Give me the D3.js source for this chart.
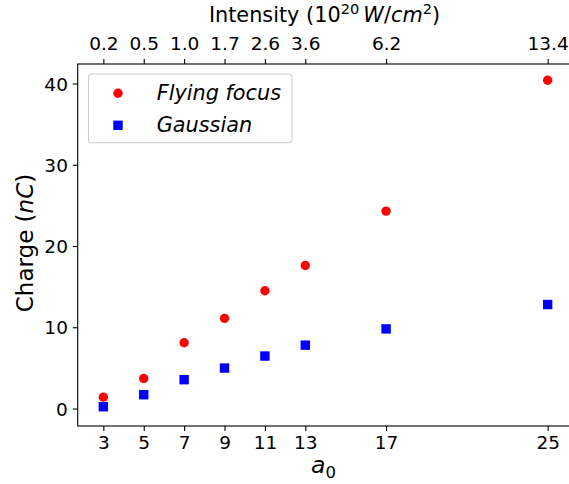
<!DOCTYPE html>
<html>
<head>
<meta charset="utf-8">
<script src="https://cdn.jsdelivr.net/npm/d3@7"></script>
<style>
  html, body { margin: 0; padding: 0; background: #fff; }
  svg { display: block; font-family: "DejaVu Sans", sans-serif; }
</style>
</head>
<body>
<svg id="chart" width="569" height="484"></svg>
<script>
// ---- data ----
const a0Values = [3, 5, 7, 9, 11, 13, 17, 25];
const intensityLabels = ["0.2", "0.5", "1.0", "1.7", "2.6", "3.6", "6.2", "13.4"];
const flyingFocus = [1.4, 3.7, 8.1, 11.1, 14.5, 17.6, 24.3, 40.4];
const gaussian = [0.22, 1.7, 3.55, 4.98, 6.46, 7.8, 9.8, 12.8];
const yTicks = [0, 10, 20, 30, 40];
const seriesNames = ["Flying focus", "Gaussian"];
const seriesColors = ["#ff0000", "#0000ff"];

// ---- layout ----
const W = 569, H = 484;
const plotLeft = 77.7, plotRight = 573.3, plotTop = 64, plotBottom = 426;
const tickLen = 4.9, tickPad = 4.9;

const svg = d3.select("#chart");

const x = d3.scaleLinear().domain([1.73, 26.27]).range([plotLeft, plotRight]);
const y = d3.scaleLinear().domain([-2.15, 42.4]).range([plotBottom, plotTop]);

// frame
svg.append("rect")
  .attr("x", plotLeft).attr("y", plotTop)
  .attr("width", plotRight - plotLeft).attr("height", plotBottom - plotTop)
  .attr("fill", "none").attr("stroke", "#000").attr("stroke-width", 1.1);

function styleAxis(g) {
  g.select(".domain").remove();
  g.selectAll(".tick line").attr("stroke", "#000").attr("stroke-width", 1.1);
  g.selectAll(".tick text").attr("fill", "#000")
    .style("font-family", "DejaVu Sans").style("font-size", "18.5px");
}

// bottom axis
const gx = svg.append("g").attr("transform", `translate(0,${plotBottom})`)
  .call(d3.axisBottom(x).tickValues(a0Values).tickSize(tickLen).tickPadding(tickPad).tickSizeOuter(0));
styleAxis(gx);
gx.selectAll(".tick text").attr("dy", null).attr("y", 22.6);

// top axis
const gt = svg.append("g").attr("transform", `translate(0,${plotTop})`)
  .call(d3.axisTop(x).tickValues(a0Values).tickFormat((d, i) => intensityLabels[i])
    .tickSize(tickLen).tickPadding(tickPad).tickSizeOuter(0));
styleAxis(gt);
gt.selectAll(".tick text").attr("dy", null).attr("y", -14);

// left axis
const gy = svg.append("g").attr("transform", `translate(${plotLeft},0)`)
  .call(d3.axisLeft(y).tickValues(yTicks).tickSize(tickLen).tickPadding(tickPad).tickSizeOuter(0));
styleAxis(gy);
gy.selectAll(".tick text").attr("dy", null).attr("y", 6.6);

// data points
const ffData = a0Values.map((a, i) => ({ a, v: flyingFocus[i] }));
const gData = a0Values.map((a, i) => ({ a, v: gaussian[i] }));
const mSize = 9.4;

svg.append("g").selectAll("rect").data(gData).enter().append("rect")
  .attr("x", d => x(d.a) - mSize / 2).attr("y", d => y(d.v) - mSize / 2)
  .attr("width", mSize).attr("height", mSize).attr("fill", seriesColors[1]);

svg.append("g").selectAll("circle").data(ffData).enter().append("circle")
  .attr("cx", d => x(d.a)).attr("cy", d => y(d.v)).attr("r", mSize / 2)
  .attr("fill", seriesColors[0]);

// legend
const leg = svg.append("g");
leg.append("rect").attr("x", 88.5).attr("y", 74).attr("width", 203.5).attr("height", 68.7)
  .attr("rx", 3.5).attr("fill", "#fff").attr("fill-opacity", 0.8)
  .attr("stroke", "#cccccc").attr("stroke-width", 1.1);
leg.append("circle").attr("cx", 118).attr("cy", 93.3).attr("r", mSize / 2).attr("fill", seriesColors[0]);
leg.append("rect").attr("x", 118 - mSize / 2).attr("y", 125.3 - mSize / 2)
  .attr("width", mSize).attr("height", mSize).attr("fill", seriesColors[1]);
leg.append("text").attr("x", 156.7).attr("y", 100).text(seriesNames[0])
  .style("font-size", "20.8px").style("font-style", "italic");
leg.append("text").attr("x", 156.7).attr("y", 131.5).text(seriesNames[1])
  .style("font-size", "20.8px").style("font-style", "italic");

// x label (a_0)
const xl = svg.append("text").attr("x", (plotLeft + plotRight) / 2 - 2).attr("y", 473)
  .attr("text-anchor", "middle").style("font-size", "23.5px");
xl.append("tspan").style("font-style", "italic").text("a");
xl.append("tspan").attr("dy", 4.5).style("font-size", "16.5px").text("0");

// top label
const tl = svg.append("text").attr("x", (plotLeft + plotRight) / 2 - 1).attr("y", 22)
  .attr("text-anchor", "middle").style("font-size", "20.8px");
tl.append("tspan").text("Intensity (10");
tl.append("tspan").attr("dy", -8).style("font-size", "14.6px").text("20");
tl.append("tspan").attr("dy", 8).text("\u2009");
tl.append("tspan").style("font-style", "italic").text("W");
tl.append("tspan").text("/");
tl.append("tspan").style("font-style", "italic").text("cm");
tl.append("tspan").attr("dy", -8).style("font-size", "14.6px").text("2");
tl.append("tspan").attr("dy", 8).text(")");

// y label
const yl = svg.append("text")
  .attr("transform", `translate(33,${(plotTop + plotBottom) / 2 - 2}) rotate(-90)`)
  .attr("text-anchor", "middle").style("font-size", "23px");
yl.append("tspan").text("Charge (");
yl.append("tspan").style("font-style", "italic").text("nC");
yl.append("tspan").text(")");
</script>
</body>
</html>
